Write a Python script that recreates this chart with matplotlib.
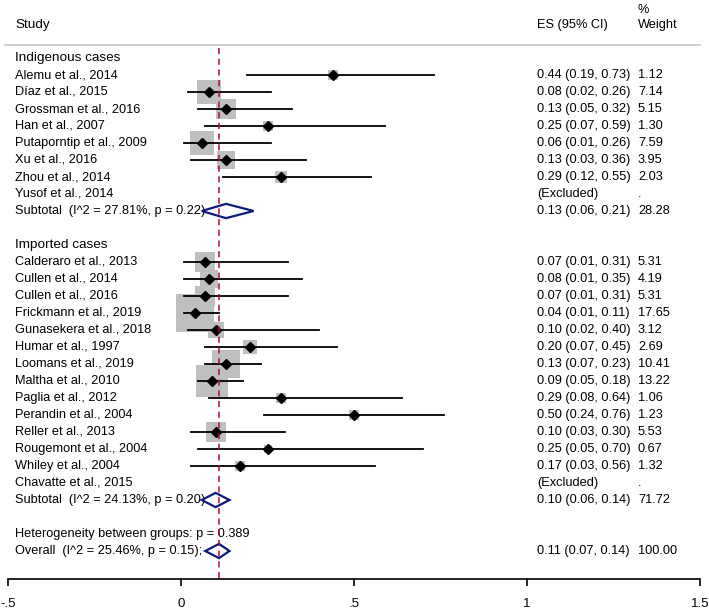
import numpy as np
import matplotlib.pyplot as plt
from matplotlib.patches import Polygon

plt.rcParams['font.family'] = ['Liberation Sans', 'DejaVu Sans']

# indigenous cases
ind_names = ["Alemu et al., 2014", "Díaz et al., 2015", "Grossman et al., 2016",
             "Han et al., 2007", "Putaporntip et al., 2009", "Xu et al., 2016",
             "Zhou et al., 2014", "Yusof et al., 2014"]
ind_es = [0.44, 0.08, 0.13, 0.25, 0.06, 0.13, 0.29, None]
ind_lo = [0.19, 0.02, 0.05, 0.07, 0.01, 0.03, 0.12, None]
ind_hi = [0.73, 0.26, 0.32, 0.59, 0.26, 0.36, 0.55, None]
ind_w = [1.12, 7.14, 5.15, 1.30, 7.59, 3.95, 2.03, None]
ind_sub = (0.13, 0.06, 0.21, 28.28)
ind_sub_label = "Subtotal  (I^2 = 27.81%, p = 0.22)"

# imported cases
imp_names = ["Calderaro et al., 2013", "Cullen et al., 2014", "Cullen et al., 2016",
             "Frickmann et al., 2019", "Gunasekera et al., 2018", "Humar et al., 1997",
             "Loomans et al., 2019", "Maltha et al., 2010", "Paglia et al., 2012",
             "Perandin et al., 2004", "Reller et al., 2013", "Rougemont et al., 2004",
             "Whiley et al., 2004", "Chavatte et al., 2015"]
imp_es = [0.07, 0.08, 0.07, 0.04, 0.10, 0.20, 0.13, 0.09, 0.29, 0.50, 0.10, 0.25, 0.17, None]
imp_lo = [0.01, 0.01, 0.01, 0.01, 0.02, 0.07, 0.07, 0.05, 0.08, 0.24, 0.03, 0.05, 0.03, None]
imp_hi = [0.31, 0.35, 0.31, 0.11, 0.40, 0.45, 0.23, 0.18, 0.64, 0.76, 0.30, 0.70, 0.56, None]
imp_w = [5.31, 4.19, 5.31, 17.65, 3.12, 2.69, 10.41, 13.22, 1.06, 1.23, 5.53, 0.67, 1.32, None]
imp_sub = (0.10, 0.06, 0.14, 71.72)
imp_sub_label = "Subtotal  (I^2 = 24.13%, p = 0.20)"

overall = (0.11, 0.07, 0.14, 100.00)
overall_label = "Overall  (I^2 = 25.46%, p = 0.15);"
het_label = "Heterogeneity between groups: p = 0.389"

xticks = [-0.5, 0, 0.5, 1, 1.5]
xtick_labels = ["-.5", "0", ".5", "1", "1.5"]

fig = plt.figure(figsize=(7.09, 6.11), dpi=100)
ax = fig.add_axes([0, 32 / 611, 1, 579 / 611])
ax.set_xlim(-0.5 - 8 / 346, 1.5 + 9 / 346)
ax.set_ylim((579 - 58) / 17, -58 / 17)

fs = 9.2
x_lab = 15 / 709
x_es = 537 / 709
x_w = 638 / 709
tr = ax.get_yaxis_transform()


def draw_group(title, y0, names, es, lo, hi, w, sub, sub_label):
    ax.text(x_lab, y0, title, transform=tr, fontsize=fs + 0.5, va='center')
    for i, n in enumerate(names):
        y = y0 + 1 + i
        ax.text(x_lab, y, n, transform=tr, fontsize=fs, va='center')
        if es[i] is None:
            ax.text(x_es, y, "(Excluded)", transform=tr, fontsize=fs, va='center')
            ax.text(x_w, y, ".", transform=tr, fontsize=fs, va='center')
            continue
        # box area proportional to weight (side in px -> points)
        side = 8.9 * np.sqrt(w[i]) * 0.72
        ax.scatter(es[i], y, marker='s', s=side ** 2, color='#bfbfbf', lw=0, zorder=2)
        ax.plot([lo[i], hi[i]], [y, y], color='black', lw=1.3, zorder=3)
        ax.plot(es[i], y, marker='D', ms=4.6, color='black', zorder=4)
        ax.text(x_es, y, "%.2f (%.2f, %.2f)" % (es[i], lo[i], hi[i]),
                transform=tr, fontsize=fs, va='center')
        ax.text(x_w, y, "%.2f" % w[i], transform=tr, fontsize=fs, va='center')
    ys = y0 + 1 + len(names)
    draw_summary(ys, sub, sub_label)
    return ys


def draw_summary(y, s, label):
    e, l, h, wt = s
    d = Polygon([[l, y], [e, y - 0.42], [h, y], [e, y + 0.42]], closed=True,
                fill=False, edgecolor='#0d1a7a', lw=1.6, zorder=4)
    ax.add_patch(d)
    ax.text(x_lab, y, label, transform=tr, fontsize=fs, va='center')
    ax.text(x_es, y, "%.2f (%.2f, %.2f)" % (e, l, h), transform=tr, fontsize=fs, va='center')
    ax.text(x_w, y, "%.2f" % wt, transform=tr, fontsize=fs, va='center')


ys1 = draw_group("Indigenous cases", 0, ind_names, ind_es, ind_lo, ind_hi, ind_w,
                 ind_sub, ind_sub_label)
ys2 = draw_group("Imported cases", ys1 + 2, imp_names, imp_es, imp_lo, imp_hi, imp_w,
                 imp_sub, imp_sub_label)
ax.text(x_lab, ys2 + 2, het_label, transform=tr, fontsize=fs, va='center')
draw_summary(ys2 + 3, overall, overall_label)

# header
ax.text(x_lab, -1.95, "Study", transform=tr, fontsize=fs + 0.5, va='center')
ax.text(x_es, -1.95, "ES (95% CI)", transform=tr, fontsize=fs, va='center')
ax.text(x_w, -1.95, "Weight", transform=tr, fontsize=fs, va='center')
ax.text(x_w, -2.8, "%", transform=tr, fontsize=fs, va='center')
ax.plot([5 / 709, 700 / 709], [-0.76, -0.76], transform=tr, color='#c8c8c8', lw=1.2)

# reference line
ax.plot([overall[0], overall[0]], [-0.6, (579 - 58) / 17], color='#a8102e',
        lw=1.1, ls=(0, (4, 3)), zorder=5)

for s in ['top', 'right', 'left']:
    ax.spines[s].set_visible(False)
ax.spines['bottom'].set_bounds(-0.5, 1.5)
ax.spines['bottom'].set_linewidth(1.2)
ax.set_yticks([])
ax.set_xticks(xticks)
ax.set_xticklabels(xtick_labels, fontsize=9.5)
ax.tick_params(axis='x', direction='out', length=5, width=1.2, pad=9)

fig.savefig("out.png", dpi=100)
